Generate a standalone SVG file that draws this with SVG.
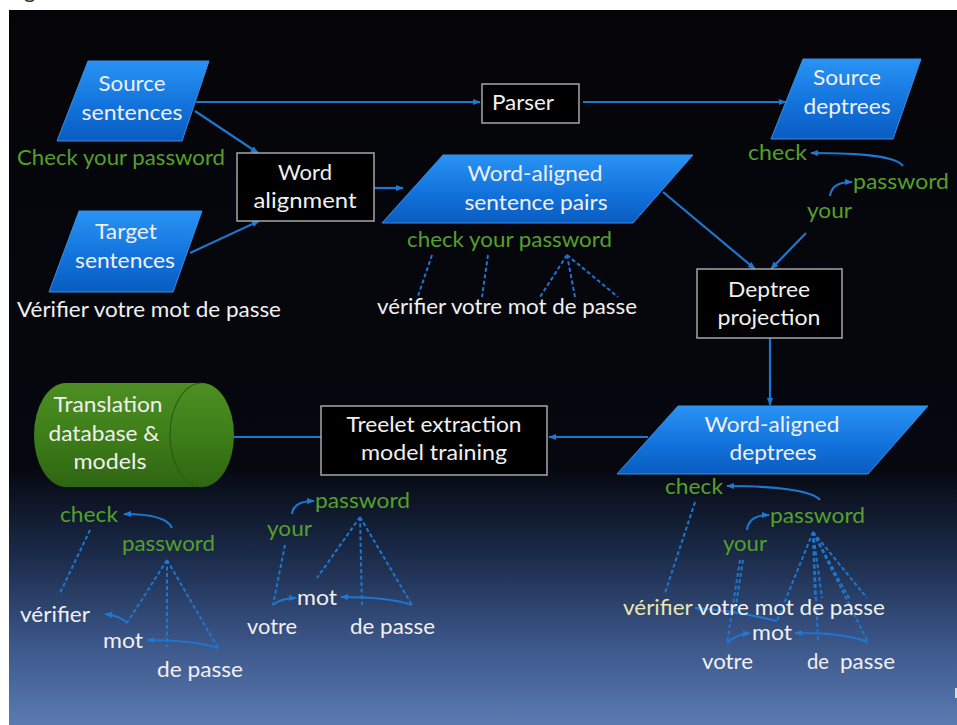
<svg xmlns="http://www.w3.org/2000/svg" width="957" height="725" viewBox="0 0 957 725">
  <defs>
    <linearGradient id="bg" x1="0" y1="10" x2="0" y2="725" gradientUnits="userSpaceOnUse">
      <stop offset="0" stop-color="#050509"/>
      <stop offset="0.64" stop-color="#06080f"/>
      <stop offset="0.76" stop-color="#1a2a48"/>
      <stop offset="0.88" stop-color="#3a5486"/>
      <stop offset="1" stop-color="#5a7bb2"/>
    </linearGradient>
    <linearGradient id="pg" x1="0" y1="0" x2="0" y2="1">
      <stop offset="0" stop-color="#2a93f4"/>
      <stop offset="0.55" stop-color="#1273dc"/>
      <stop offset="1" stop-color="#0a5cc0"/>
    </linearGradient>
    <linearGradient id="cyl" x1="0" y1="0" x2="0" y2="1">
      <stop offset="0" stop-color="#4d8f22"/>
      <stop offset="0.5" stop-color="#3e7e19"/>
      <stop offset="1" stop-color="#2f6512"/>
    </linearGradient>
    <marker id="ah" viewBox="0 0 10 10" refX="9" refY="5" markerWidth="8" markerHeight="8" markerUnits="userSpaceOnUse" orient="auto">
      <path d="M0,1 L10,5 L0,9 Z" fill="#1f78d2"/>
    </marker>
    <style>
      text { font-family: Lato, "Open Sans", "Liberation Sans", sans-serif; font-size: 22px; }
      .c { text-anchor: middle; }
      .w { fill: #f0f0f0; }
      .g { fill: #54a02a; }
      .y { fill: #ece6b4; }
      .box { fill: #000; stroke: #a6a6a6; stroke-width: 1.5; }
      .para { fill: url(#pg); stroke: #3a8ee0; stroke-width: 1; }
      .ln { fill: none; stroke: #1f76cf; stroke-width: 2.2; }
      .ar { marker-end: url(#ah); }
      .d { fill: none; stroke: #1f76cf; stroke-width: 2; stroke-dasharray: 4 2.5; }
    </style>
  </defs>

  <!-- slide background -->
  <rect x="9" y="10" width="948" height="715" fill="url(#bg)"/>
  <text x="24" y="-2" fill="#333">g</text>
  <rect x="955" y="688" width="2" height="10" fill="#dcdcdc"/>

  <!-- connectors -->
  <g id="connectors">
    <path class="ln ar" d="M196,102 H480"/>
    <path class="ln ar" d="M583,102 H786"/>
    <path class="ln ar" d="M195,111 L258,153"/>
    <path class="ln ar" d="M190,253 L259,221"/>
    <path class="ln ar" d="M374,188 H403"/>
    <path class="ln ar" d="M663,192 L755,269"/>
    <path class="ln ar" d="M806,233 L771,269"/>
    <path class="ln ar" d="M770,338 V405"/>
    <path class="ln ar" d="M648,437 H549"/>
    <path class="ln ar" d="M321,437 H205"/>

    <!-- source dependency tree (top right) -->
    <path class="ln ar" d="M903,166 C896,156 862,153 811,153"/>
    <path class="ln ar" d="M830,196 C831,187 838,182 852,182"/>

    <!-- word alignment links (middle) -->
    <path class="d" d="M432,255 L418,296"/>
    <path class="d" d="M488,255 L482,297"/>
    <path class="d" d="M567,255 L540,297"/>
    <path class="d" d="M567,255 L575,297"/>
    <path class="d" d="M567,255 L618,297"/>

    <!-- treelet: check / vérifier -->
    <path class="ln ar" d="M172,528 C168,518 152,514 124,514"/>
    <path class="d" d="M90,530 L60,593"/>
    <path class="d" d="M167,560 L127,623"/>
    <path class="ln ar" d="M127,623 C121,617 113,615 105,614"/>
    <path class="d" d="M167,560 V647"/>
    <path class="d" d="M167,560 L218,648"/>
    <path class="ln ar" d="M218,648 C196,641 172,640 147,640"/>

    <!-- treelet: your password -->
    <path class="ln ar" d="M292,514 C293,505 300,501 314,501"/>
    <path class="d" d="M360,517 L317,578"/>
    <path class="d" d="M360,517 L362,605"/>
    <path class="d" d="M360,517 L412,605"/>
    <path class="ln ar" d="M412,605 C392,598 366,597 341,597"/>
    <path class="d" d="M285,545 L273,605"/>
    <path class="ln ar" d="M273,605 C279,600 286,598 296,598"/>

    <!-- word-aligned deptree (bottom right) -->
    <path class="ln ar" d="M820,500 C812,490 772,486 727,486"/>
    <path class="ln ar" d="M747,530 C748,521 755,515 769,515"/>
    <path class="d" d="M695,502 L665,593"/>
    <path class="d" d="M813,532 L777,621"/>
    <path class="ln ar" d="M777,621 C752,615 722,610 695,608"/>
    <path class="d" d="M813,532 L815,598"/>
    <path class="d" d="M813,532 L822,598"/>
    <path class="d" d="M813,532 L818,640"/>
    <path class="d" d="M813,532 L850,600"/>
    <path class="d" d="M813,532 L867,598"/>
    <path class="d" d="M813,532 L868,642"/>
    <path class="ln ar" d="M868,642 C846,634 822,633 795,633"/>
    <path class="d" d="M740,560 L727,643"/>
    <path class="d" d="M743,560 L735,612"/>
    <path class="ln ar" d="M727,643 C733,637 740,634 750,633"/>
  </g>

  <!-- nodes -->
  <g id="source-sentences">
    <polygon class="para" points="88,61 209,61 182,141 57,141"/>
    <text class="c w" x="132" y="91" textLength="67" lengthAdjust="spacingAndGlyphs">Source</text>
    <text class="c w" x="132" y="120" textLength="101" lengthAdjust="spacingAndGlyphs">sentences</text>
  </g>
  <text class="g" x="17" y="165" textLength="208" lengthAdjust="spacingAndGlyphs">Check your password</text>

  <g id="target-sentences">
    <polygon class="para" points="79,211 202,211 173,292 49,292"/>
    <text class="c w" x="126" y="239" textLength="62" lengthAdjust="spacingAndGlyphs">Target</text>
    <text class="c w" x="125" y="268" textLength="100" lengthAdjust="spacingAndGlyphs">sentences</text>
  </g>
  <text class="w" x="17" y="317" textLength="264" lengthAdjust="spacingAndGlyphs">Vérifier votre mot de passe</text>

  <g id="word-alignment">
    <rect class="box" x="237" y="153" width="137" height="68"/>
    <text class="c w" x="305" y="180" textLength="54" lengthAdjust="spacingAndGlyphs">Word</text>
    <text class="c w" x="305" y="208" textLength="103" lengthAdjust="spacingAndGlyphs">alignment</text>
  </g>

  <g id="parser">
    <rect class="box" x="482" y="84" width="97" height="39"/>
    <text class="c w" x="523" y="110" textLength="62" lengthAdjust="spacingAndGlyphs">Parser</text>
  </g>

  <g id="source-deptrees">
    <polygon class="para" points="803,59 921,59 893,139 771,139"/>
    <text class="c w" x="847" y="85" textLength="68" lengthAdjust="spacingAndGlyphs">Source</text>
    <text class="c w" x="847" y="114" textLength="87" lengthAdjust="spacingAndGlyphs">deptrees</text>
  </g>
  <text class="g" x="748" y="160" textLength="59" lengthAdjust="spacingAndGlyphs">check</text>
  <text class="g" x="853" y="189" textLength="96" lengthAdjust="spacingAndGlyphs">password</text>
  <text class="g" x="807" y="218" textLength="45" lengthAdjust="spacingAndGlyphs">your</text>

  <g id="word-aligned-sentence-pairs">
    <polygon class="para" points="443,155 693,155 633,223 382,223"/>
    <text class="c w" x="535" y="181" textLength="135" lengthAdjust="spacingAndGlyphs">Word-aligned</text>
    <text class="c w" x="536" y="210" textLength="143" lengthAdjust="spacingAndGlyphs">sentence pairs</text>
  </g>
  <text class="g" x="407" y="247" textLength="205" lengthAdjust="spacingAndGlyphs">check your password</text>
  <text class="w" x="377" y="314" textLength="260" lengthAdjust="spacingAndGlyphs">vérifier votre mot de passe</text>

  <g id="deptree-projection">
    <rect class="box" x="697" y="269" width="145" height="69"/>
    <text class="c w" x="769" y="297" textLength="82" lengthAdjust="spacingAndGlyphs">Deptree</text>
    <text class="c w" x="769" y="325" textLength="103" lengthAdjust="spacingAndGlyphs">projection</text>
  </g>

  <g id="word-aligned-deptrees">
    <polygon class="para" points="678,406 928,406 868,474 617,474"/>
    <text class="c w" x="772" y="432" textLength="135" lengthAdjust="spacingAndGlyphs">Word-aligned</text>
    <text class="c w" x="773" y="460" textLength="87" lengthAdjust="spacingAndGlyphs">deptrees</text>
  </g>

  <g id="treelet-extraction">
    <rect class="box" x="321" y="406" width="226" height="69"/>
    <text class="c w" x="434" y="432" textLength="175" lengthAdjust="spacingAndGlyphs">Treelet extraction</text>
    <text class="c w" x="434" y="460" textLength="146" lengthAdjust="spacingAndGlyphs">model training</text>
  </g>

  <g id="translation-database">
    <path d="M66,383 H202 A32,52 0 0 1 202,487 H66 A32,52 0 0 1 66,383 Z" fill="url(#cyl)"/>
    <path d="M202,383 A32,52 0 0 0 202,487" fill="none" stroke="#2b5c10" stroke-width="1.2"/>
    <text class="c w" x="108" y="412" textLength="109" lengthAdjust="spacingAndGlyphs">Translation</text>
    <text class="c w" x="104" y="441" textLength="111" lengthAdjust="spacingAndGlyphs">database &amp;</text>
    <text class="c w" x="110" y="469" textLength="73" lengthAdjust="spacingAndGlyphs">models</text>
  </g>

  <!-- treelet word labels -->
  <g id="treelet-check-password">
    <text class="g" x="60" y="522" textLength="58" lengthAdjust="spacingAndGlyphs">check</text>
    <text class="g" x="122" y="551" textLength="93" lengthAdjust="spacingAndGlyphs">password</text>
    <text class="w" x="20" y="622" textLength="70" lengthAdjust="spacingAndGlyphs">vérifier</text>
    <text class="w" x="103" y="648" textLength="40" lengthAdjust="spacingAndGlyphs">mot</text>
    <text class="w" x="157" y="677" textLength="86" lengthAdjust="spacingAndGlyphs">de passe</text>
  </g>

  <g id="treelet-your-password">
    <text class="g" x="315" y="508" textLength="95" lengthAdjust="spacingAndGlyphs">password</text>
    <text class="g" x="267" y="536" textLength="45" lengthAdjust="spacingAndGlyphs">your</text>
    <text class="w" x="297" y="605" textLength="40" lengthAdjust="spacingAndGlyphs">mot</text>
    <text class="w" x="247" y="634" textLength="50" lengthAdjust="spacingAndGlyphs">votre</text>
    <text class="w" x="350" y="634" textLength="85" lengthAdjust="spacingAndGlyphs">de passe</text>
  </g>

  <g id="aligned-deptree-words">
    <text class="g" x="665" y="494" textLength="58" lengthAdjust="spacingAndGlyphs">check</text>
    <text class="g" x="770" y="523" textLength="95" lengthAdjust="spacingAndGlyphs">password</text>
    <text class="g" x="723" y="551" textLength="44" lengthAdjust="spacingAndGlyphs">your</text>
    <text class="w" x="623" y="615" textLength="262" lengthAdjust="spacingAndGlyphs"><tspan class="y">vérifier</tspan> votre mot de passe</text>
    <text class="w" x="752" y="640" textLength="40" lengthAdjust="spacingAndGlyphs">mot</text>
    <text class="w" x="702" y="669" textLength="51" lengthAdjust="spacingAndGlyphs">votre</text>
    <text class="w" x="807" y="669" textLength="22" lengthAdjust="spacingAndGlyphs">de</text>
    <text class="w" x="840" y="669" textLength="55" lengthAdjust="spacingAndGlyphs">passe</text>
  </g>
</svg>
